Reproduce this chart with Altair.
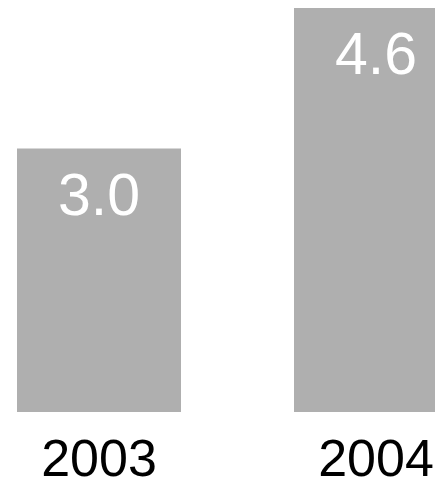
import altair as alt
import pandas as pd

years = ["2003", "2004"]
values = [3.0, 4.6]
labels = ["3.0", "4.6"]

df = pd.DataFrame({"year": years, "value": values, "label": labels})

x = alt.X(
    "year:N",
    sort=years,
    title=None,
    scale=alt.Scale(paddingInner=0.408, paddingOuter=0.0325, range=[0, 459]),
    axis=alt.Axis(
        ticks=False,
        domain=False,
        labelAngle=0,
        labelFontSize=52,
        labelFont="Liberation Sans",
        labelColor="#000000",
        labelBaseline="alphabetic",
        labelPadding=63,
    ),
)
y = alt.Y(
    "value:Q",
    scale=alt.Scale(domain=[0, 4.6], nice=False, zero=True),
    axis=None,
)

bars = alt.Chart(df).mark_bar(color="#afafaf", clip=True).encode(x=x, y=y)
text = alt.Chart(df).mark_text(
    color="white",
    fontSize=59,
    font="Liberation Sans",
    baseline="alphabetic",
    align="center",
    dy=66,
).encode(x=x, y=y, text="label:N")

chart = (
    (bars + text)
    .properties(
        width=427,
        height=404,
        padding={"left": 0, "top": 0, "right": 0, "bottom": 65},
        autosize=alt.AutoSizeParams(type="none"),
    )
    .configure_view(stroke=None)
)

chart.save("out.html", embed_options={"renderer": "svg", "actions": False})
